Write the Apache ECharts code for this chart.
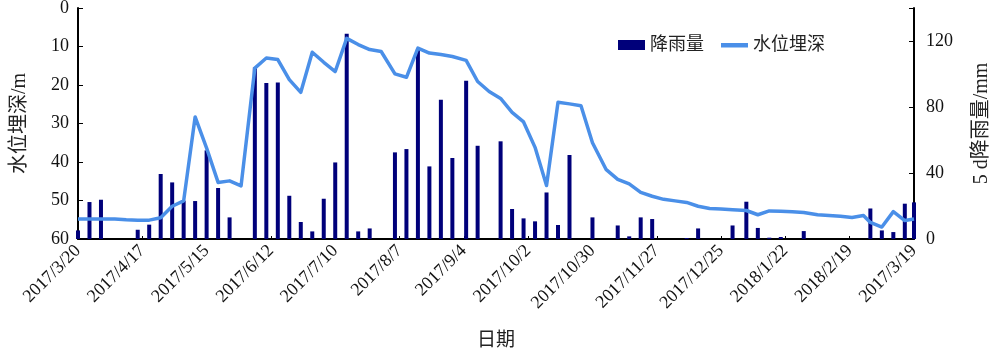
<!DOCTYPE html>
<html>
<head>
<meta charset="utf-8">
<script src="https://cdn.jsdelivr.net/npm/echarts@6/dist/echarts.min.js"></script>
<style>
html,body{margin:0;padding:0;background:#fff;}
#chart{width:1000px;height:353px;}
</style>
</head>
<body>
<div id="chart"></div>
<script>
// Observation dates (5-day periods)
var dates = [
  '2017-03-20','2017-03-25','2017-03-30',
  '2017-04-05','2017-04-10','2017-04-15','2017-04-20','2017-04-25','2017-04-30',
  '2017-05-05','2017-05-10','2017-05-15','2017-05-20','2017-05-25','2017-05-30',
  '2017-06-05','2017-06-10','2017-06-15','2017-06-20','2017-06-25','2017-06-30',
  '2017-07-05','2017-07-10','2017-07-15','2017-07-20','2017-07-25','2017-07-30',
  '2017-08-05','2017-08-10','2017-08-15','2017-08-20','2017-08-25','2017-08-30',
  '2017-09-05','2017-09-10','2017-09-15','2017-09-20','2017-09-25','2017-09-30',
  '2017-10-05','2017-10-10','2017-10-15','2017-10-20','2017-10-25','2017-10-30',
  '2017-11-05','2017-11-10','2017-11-15','2017-11-20','2017-11-25','2017-11-30',
  '2017-12-05','2017-12-10','2017-12-15','2017-12-20','2017-12-25','2017-12-30',
  '2018-01-05','2018-01-10','2018-01-15','2018-01-20','2018-01-25','2018-01-30',
  '2018-02-05','2018-02-10','2018-02-15','2018-02-20','2018-02-25','2018-02-28',
  '2018-03-05','2018-03-10','2018-03-15','2018-03-19'
];
// 5 d rainfall (mm)
var rainfall = [
  5.2, 22.4, 23.8, 0, 0, 5.6, 8.7, 39.4, 34.3, 23.2,
  23.0, 53.7, 30.9, 13.1, 0, 104, 94.5, 94.9, 26.2, 10.3,
  4.6, 24.4, 46.4, 124.4, 4.6, 6.4, 0, 52.5, 54.5, 115,
  44.0, 84.4, 49.1, 95.9, 56.5, 0, 59.2, 18.2, 12.5, 10.7,
  28.2, 8.5, 50.9, 0, 13.1, 0, 8.2, 1.6, 13.1, 12.1,
  0, 0, 0.6, 6.4, 0, 0, 8.2, 22.6, 6.7, 0.8,
  1.2, 0, 4.8, 0, 0, 0, 0, 0, 18.5, 5.2,
  4.2, 21.4, 22.2
];
// Water table depth (m)
var depth = [
  54.8, 54.8, 54.8, 54.8, 55.0, 55.1, 55.1, 54.5, 51.5, 50.1,
  28.3, 36.4, 45.3, 44.9, 46.2, 15.6, 13.0, 13.4, 18.6, 21.9,
  11.5, 14.1, 16.5, 7.9, 9.5, 10.8, 11.3, 17.1, 18.0, 10.4,
  11.7, 12.1, 12.6, 13.6, 19.1, 21.7, 23.5, 27.1, 29.6, 36.2,
  46.1, 24.5, 24.9, 25.4, 35.0, 42.0, 44.5, 45.7, 47.9, 48.9,
  49.7, 50.1, 50.5, 51.5, 52.1, 52.2, 52.4, 52.6, 53.7, 52.7,
  52.8, 52.9, 53.1, 53.7, 53.9, 54.1, 54.4, 53.9, 55.7, 56.9,
  52.9, 55.2, 54.8
];
// x-axis tick labels (every 28 days from start)
var tickLabels = ['2017/3/20','2017/4/17','2017/5/15','2017/6/12','2017/7/10','2017/8/7','2017/9/4',
  '2017/10/2','2017/10/30','2017/11/27','2017/12/25','2018/1/22','2018/2/19','2017/3/19'];

var startMs = Date.UTC(2017, 2, 20);
function dayOf(s) {
  var p = s.split('-');
  return Math.round((Date.UTC(+p[0], +p[1] - 1, +p[2]) - startMs) / 86400000);
}
var days = dates.map(dayOf);
var rainData = days.map(function (d, i) { return [d, rainfall[i]]; });
var depthData = days.map(function (d, i) { return [d, depth[i]]; });

var serif = "'Liberation Serif','Times New Roman','Noto Sans CJK SC',serif";
var txt = '#111';
var lineIcon = 'path://M0,0L0.01,0L0.01,0.01L0,0.01Z M0,3L27,3L27,7.5L0,7.5Z M0,10L0.01,10L0.01,9.99L0,9.99Z';
var chart = echarts.init(document.getElementById('chart'), null, {renderer: 'canvas'});
chart.setOption({
  animation: false,
  backgroundColor: '#fff',
  textStyle: {fontFamily: serif},
  legend: {
    left: 613, top: 31,
    itemWidth: 27, itemHeight: 10, itemGap: 17,
    textStyle: {fontFamily: serif, fontSize: 18, color: '#222'},
    data: [{name: '降雨量', icon: 'rect'}, {name: '水位埋深', icon: lineIcon}]
  },
  grid: {left: 78, right: 86, top: 8, bottom: 114, containLabel: false, outerBoundsMode: 'none'},
  xAxis: {
    type: 'value', min: 0, max: 364, interval: 28,
    name: '日期', nameLocation: 'middle', nameGap: 93,
    nameTextStyle: {fontFamily: serif, fontSize: 19, color: '#222'},
    axisLine: {show: true, onZero: false, lineStyle: {color: '#000', width: 2}},
    axisTick: {show: true, inside: true, length: 3, lineStyle: {color: '#000'}},
    splitLine: {show: false},
    axisLabel: {
      rotate: 45, margin: 9, fontSize: 18, color: txt, fontFamily: serif,
      formatter: function (v) { return tickLabels[Math.round(v / 28)] || ''; }
    }
  },
  yAxis: [
    {
      type: 'value', inverse: true, min: 0, max: 60, interval: 10,
      name: '水位埋深/m', nameLocation: 'middle', nameGap: 48, nameRotate: 90,
      nameTextStyle: {fontFamily: serif, fontSize: 20, color: '#222'},
      axisLine: {show: true, lineStyle: {color: '#000', width: 2}},
      axisTick: {show: true, inside: true, length: 5, lineStyle: {color: '#000'}},
      splitLine: {show: false},
      axisLabel: {margin: 9, fontSize: 18, color: txt, fontFamily: serif}
    },
    {
      type: 'value', min: 0, max: 140, interval: 40, position: 'right',
      name: '5 d降雨量/mm', nameLocation: 'middle', nameGap: 58, nameRotate: 90,
      nameTextStyle: {fontFamily: serif, fontSize: 20, color: '#222'},
      axisLine: {show: true, lineStyle: {color: '#000', width: 2}},
      axisTick: {show: true, inside: true, length: 5, lineStyle: {color: '#000'}},
      splitLine: {show: false},
      axisLabel: {
        margin: 12, fontSize: 18, color: txt, fontFamily: serif,
        formatter: function (v) { return v === 140 ? '' : String(v); }
      }
    }
  ],
  series: [
    {
      name: '降雨量', type: 'bar', yAxisIndex: 1, barWidth: 4,
      itemStyle: {color: '#00007a'},
      data: rainData, z: 2
    },
    {
      name: '水位埋深', type: 'line', yAxisIndex: 0,
      symbol: 'none', showSymbol: false,
      lineStyle: {color: '#4a8fe8', width: 3.5, join: 'round'},
      itemStyle: {color: '#4a8fe8'},
      data: depthData, z: 3
    }
  ]
});
</script>
</body>
</html>
